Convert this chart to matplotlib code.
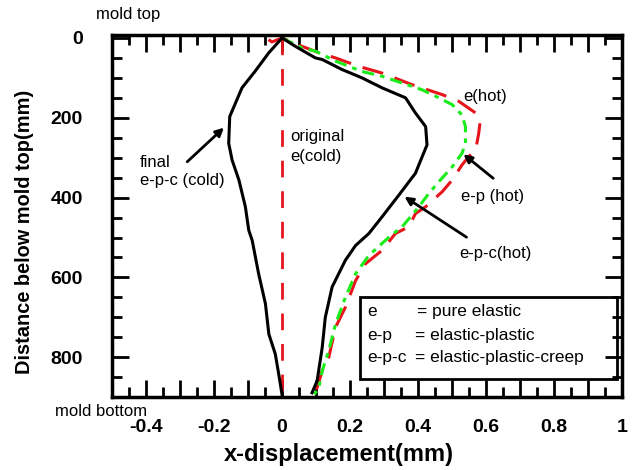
import matplotlib.pyplot as plt
from matplotlib.patches import Rectangle
from matplotlib.ticker import MultipleLocator

plt.rcParams['font.family'] = ['Liberation Sans', 'DejaVu Sans']

# final e-p-c (cold), black solid, left branch
cold_x = [0.0, -0.039, -0.079, -0.118, -0.137, -0.154, -0.157, -0.147, -0.127,
          -0.108, -0.098, -0.088, -0.069, -0.049, -0.039, -0.020, -0.010, 0.0]
cold_y = [0, 37, 83, 125, 163, 197, 264, 306, 356, 423, 482, 507, 591, 666,
          742, 792, 842, 895]

# e-p-c (hot), black solid, right branch
epc_x = [0.0, 0.039, 0.098, 0.118, 0.176, 0.235, 0.294, 0.363, 0.392, 0.422,
         0.426, 0.412, 0.392, 0.343, 0.294, 0.255, 0.216, 0.186, 0.147, 0.127,
         0.118, 0.103, 0.088]
epc_y = [0, 21, 50, 54, 79, 100, 125, 150, 188, 222, 268, 297, 339, 394, 448,
         490, 520, 557, 624, 700, 775, 859, 889]

# e (hot), red dashed
e_x = [-0.04, -0.03, 0.0, 0.059, 0.108, 0.157, 0.225, 0.294, 0.382, 0.471,
       0.520, 0.569, 0.583, 0.578, 0.569, 0.549, 0.529, 0.5, 0.471, 0.422,
       0.392, 0.373, 0.333, 0.294, 0.245, 0.216, 0.186, 0.157, 0.137, 0.118,
       0.103, 0.088]
e_y = [4, 10, 0, 21, 37, 50, 71, 88, 117, 142, 159, 188, 205, 239, 281, 297,
       318, 356, 385, 423, 440, 473, 490, 532, 566, 608, 675, 725, 801, 834,
       876, 893]

# e-p (hot), green dash-dot
ep_x = [0.0, 0.059, 0.098, 0.157, 0.235, 0.294, 0.353, 0.412, 0.461, 0.5,
        0.529, 0.539, 0.539, 0.529, 0.5, 0.461, 0.431, 0.402, 0.353, 0.314,
        0.304, 0.255, 0.216, 0.186, 0.157, 0.137, 0.118, 0.108, 0.095]
ep_y = [0, 25, 33, 58, 84, 96, 113, 130, 150, 167, 193, 222, 264, 289, 323,
        360, 390, 423, 473, 499, 507, 545, 591, 650, 717, 784, 834, 876, 893]

# original e (cold)
orig_x = [0.0, 0.0]
orig_y = [0, 900]

x_ticks = [-0.4, -0.3, -0.2, -0.1, 0, 0.1, 0.2, 0.3, 0.4, 0.5, 0.6, 0.7, 0.8, 0.9, 1.0]
x_labels = ['-0.4', '', '-0.2', '', '0', '', '0.2', '', '0.4', '', '0.6', '', '0.8', '', '1']
y_ticks = [0, 200, 400, 600, 800]
y_labels = ['0', '200', '400', '600', '800']

fig = plt.figure(figsize=(6.33, 4.70), dpi=100)
ax = fig.add_axes([0.177, 0.155, 0.806, 0.771])

ax.plot(orig_x, orig_y, color='#e8141c', lw=2, dashes=(6, 5))
ax.plot(e_x, e_y, color='#e8141c', lw=2.2, dashes=(7, 4))
ax.plot(ep_x, ep_y, color='#19ec19', lw=2.2, dashes=(4, 2, 1.5, 2))
ax.plot(cold_x, cold_y, color='black', lw=2.2)
ax.plot(epc_x, epc_y, color='black', lw=2.2)

ax.set_xlim(-0.5, 1.0)
ax.set_ylim(900, -8)

ax.set_xticks(x_ticks)
ax.set_xticklabels(x_labels)
ax.xaxis.set_minor_locator(MultipleLocator(0.05))
ax.set_yticks(y_ticks)
ax.set_yticklabels(y_labels)
ax.yaxis.set_minor_locator(MultipleLocator(50))

ax.tick_params(which='both', direction='in', top=True, right=True, width=2,
               labelsize=14)
ax.tick_params(which='major', length=12)
ax.tick_params(axis='x', which='major', pad=16)
ax.tick_params(axis='y', which='major', pad=21)
ax.tick_params(which='minor', length=7)
for lab in ax.get_xticklabels() + ax.get_yticklabels():
    lab.set_fontweight('bold')
for s in ax.spines.values():
    s.set_linewidth(2.5)

fig.text(339 / 633, 1 - 455 / 470, 'x-displacement(mm)', fontsize=17,
         fontweight='bold', ha='center', va='center')
fig.text(25 / 633, 1 - 232 / 470, 'Distance below mold top(mm)', fontsize=14.4,
         fontweight='bold', ha='center', va='center', rotation=90)

fig.text(96 / 633, 1 - 15 / 470, 'mold top', fontsize=12, va='center')
fig.text(55 / 633, 1 - 412 / 470, 'mold bottom', fontsize=12, va='center')

ax.text(-0.42, 313, 'final', fontsize=12, va='center')
ax.text(-0.418, 356, 'e-p-c (cold)', fontsize=12, va='center')
ax.annotate('', xy=(-0.165, 220), xytext=(-0.285, 315),
            arrowprops=dict(arrowstyle='-|>', color='black', lw=2, mutation_scale=12))
ax.text(0.024, 248, 'original', fontsize=12, va='center')
ax.text(0.024, 298, 'e(cold)', fontsize=12, va='center')
ax.text(0.534, 146, 'e(hot)', fontsize=12, va='center')
ax.text(0.525, 398, 'e-p (hot)', fontsize=12, va='center')
ax.annotate('', xy=(0.527, 287), xytext=(0.627, 356),
            arrowprops=dict(arrowstyle='-|>', color='black', lw=2, mutation_scale=12))
ax.text(0.52, 540, 'e-p-c(hot)', fontsize=12, va='center')
ax.annotate('', xy=(0.353, 394), xytext=(0.549, 503),
            arrowprops=dict(arrowstyle='-|>', color='black', lw=2, mutation_scale=12))

ax.add_patch(Rectangle((0.229, 650), 0.756, 205, fill=False, lw=2, ec='black'))
ax.text(0.25, 686, 'e', fontsize=12.5, va='center')
ax.text(0.25, 746, 'e-p', fontsize=12.5, va='center')
ax.text(0.25, 800, 'e-p-c', fontsize=12.5, va='center')
ax.text(0.397, 686, '= pure elastic', fontsize=12.5, va='center')
ax.text(0.39, 746, '= elastic-plastic', fontsize=12.5, va='center')
ax.text(0.39, 800, '= elastic-plastic-creep', fontsize=12.5, va='center')

fig.savefig('out.png', dpi=100)
